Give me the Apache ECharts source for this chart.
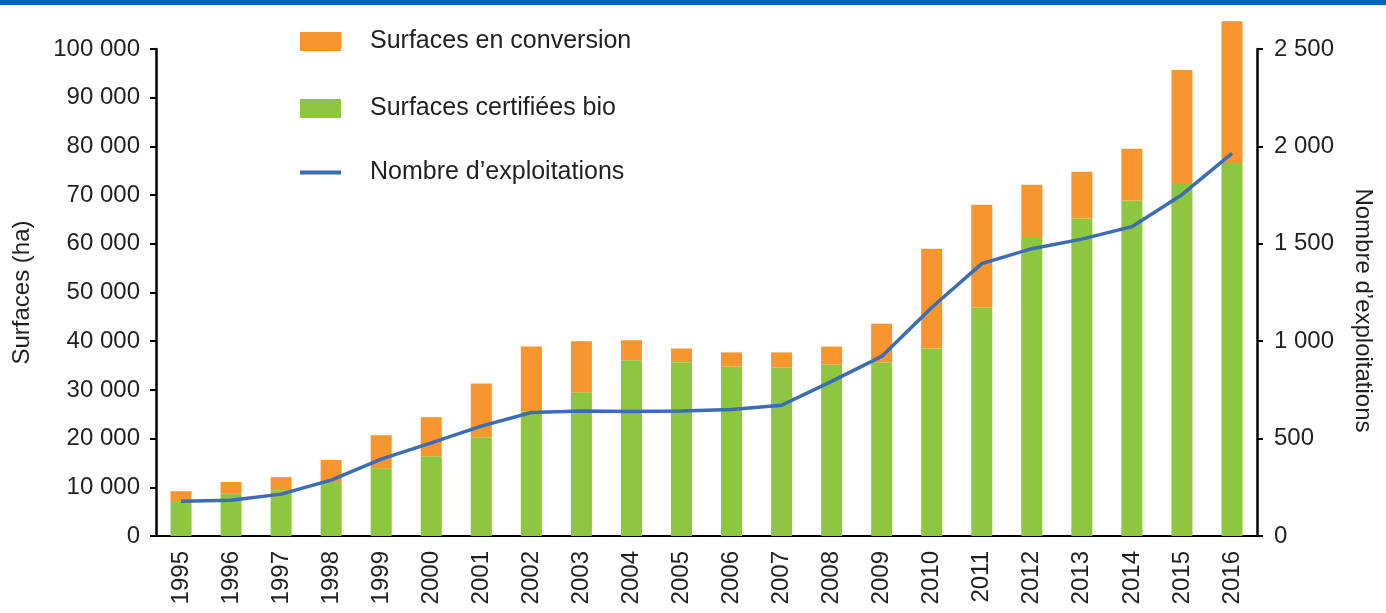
<!DOCTYPE html>
<html>
<head>
<meta charset="utf-8">
<script src="https://cdn.jsdelivr.net/npm/echarts@6/dist/echarts.min.js"></script>
<style>
  html, body { margin: 0; padding: 0; background: #fff; }
  #chart { width: 1386px; height: 613px; }
</style>
</head>
<body>
<div id="chart"></div>
<script>
const years = ["1995", "1996", "1997", "1998", "1999", "2000", "2001", "2002", "2003", "2004", "2005",
  "2006", "2007", "2008", "2009", "2010", "2011", "2012", "2013", "2014", "2015", "2016"];

// surfaces (ha)
const certified = [7200, 8800, 9400, 11100, 13900, 16400, 20300, 25600, 29500, 36100, 35700,
  34800, 34600, 35200, 35700, 38500, 46900, 61200, 65200, 68900, 72300, 76600];
const conversion = [2000, 2300, 2700, 4500, 6800, 8000, 11000, 13300, 10500, 4100, 2800,
  2900, 3100, 3700, 7900, 20500, 21100, 10900, 9600, 10600, 23400, 29100];

// nombre d'exploitations
const farms = [179, 184, 215, 287, 395, 478, 564, 634, 642, 639, 642,
  649, 671, 794, 922, 1173, 1398, 1475, 1524, 1588, 1752, 1964];

const FONT = "'Liberation Sans', Arial, sans-serif";
const TEXT = "#231f20";
const BLUE = "#3b6cb5";

const fmt = (v) => String(v).replace(/\B(?=(\d{3})+(?!\d))/g, " ");

const legendItem = (name, top, iconH, gap) => ({
  data: [{ name: name, icon: "rect" }],
  left: 300,
  top: top,
  padding: 0,
  itemWidth: 41,
  itemHeight: iconH,
  selectedMode: false,
  textStyle: {
    fontFamily: FONT,
    fontSize: 25,
    lineHeight: 25,
    color: TEXT,
    padding: [0, 0, 0, gap],
  },
});

const option = {
  animation: false,
  backgroundColor: "#fff",
  textStyle: { fontFamily: FONT },
  graphic: [
    {
      type: "rect",
      left: 0,
      top: 0,
      shape: { width: 1386, height: 5 },
      style: { fill: "#0067a7" },
    },
  ],
  legend: [
    legendItem("Surfaces en conversion", 29, 19, 24),
    legendItem("Surfaces certifiées bio", 96, 19, 24),
    legendItem("Nombre d’exploitations", 160, 4, 24),
  ],
  grid: {
    left: 156,
    right: 129,
    top: 49,
    bottom: 77,
    outerBoundsMode: "none",
  },
  xAxis: {
    type: "category",
    data: years,
    axisLine: { lineStyle: { color: "#000", width: 2 } },
    axisTick: { length: 5, lineStyle: { color: "#000", width: 2 } },
    axisLabel: {
      rotate: 90,
      margin: 15,
      fontSize: 24,
      fontFamily: FONT,
      color: TEXT,
    },
  },
  yAxis: [
    {
      type: "value",
      min: 0,
      max: 100000,
      interval: 10000,
      name: "Surfaces (ha)",
      nameLocation: "middle",
      nameGap: 122,
      nameTextStyle: { fontSize: 24, fontFamily: FONT, color: TEXT },
      splitLine: { show: false },
      axisLine: { show: true, lineStyle: { color: "#000", width: 2.5 } },
      axisTick: { show: true, length: 6, lineStyle: { color: "#000", width: 2 } },
      axisLabel: {
        margin: 16,
        fontSize: 24,
        fontFamily: FONT,
        color: TEXT,
        formatter: fmt,
      },
    },
    {
      type: "value",
      position: "right",
      min: 0,
      max: 2500,
      interval: 500,
      name: "Nombre d’exploitations",
      nameLocation: "middle",
      nameRotate: -90,
      nameGap: 94,
      nameTextStyle: {
        fontSize: 24,
        fontFamily: FONT,
        color: TEXT,
        padding: [0, 0, 0, 36],
      },
      splitLine: { show: false },
      axisLine: { show: true, lineStyle: { color: "#000", width: 2.5 } },
      axisTick: { show: true, length: 6, lineStyle: { color: "#000", width: 2 } },
      axisLabel: {
        margin: 17,
        fontSize: 24,
        fontFamily: FONT,
        color: TEXT,
        formatter: fmt,
      },
    },
  ],
  series: [
    {
      name: "Surfaces certifiées bio",
      type: "bar",
      stack: "surf",
      barWidth: 21,
      clip: false,
      itemStyle: { color: "#8dc63f" },
      data: certified,
    },
    {
      name: "Surfaces en conversion",
      type: "bar",
      stack: "surf",
      barWidth: 21,
      clip: false,
      itemStyle: { color: "#f7962f" },
      data: conversion,
    },
    {
      name: "Nombre d’exploitations",
      type: "line",
      yAxisIndex: 1,
      symbol: "none",
      clip: false,
      lineStyle: { color: BLUE, width: 3.5 },
      itemStyle: { color: BLUE },
      data: farms,
    },
  ],
};

const chartInstance = echarts.init(document.getElementById("chart"));
chartInstance.setOption(option);
</script>
</body>
</html>
